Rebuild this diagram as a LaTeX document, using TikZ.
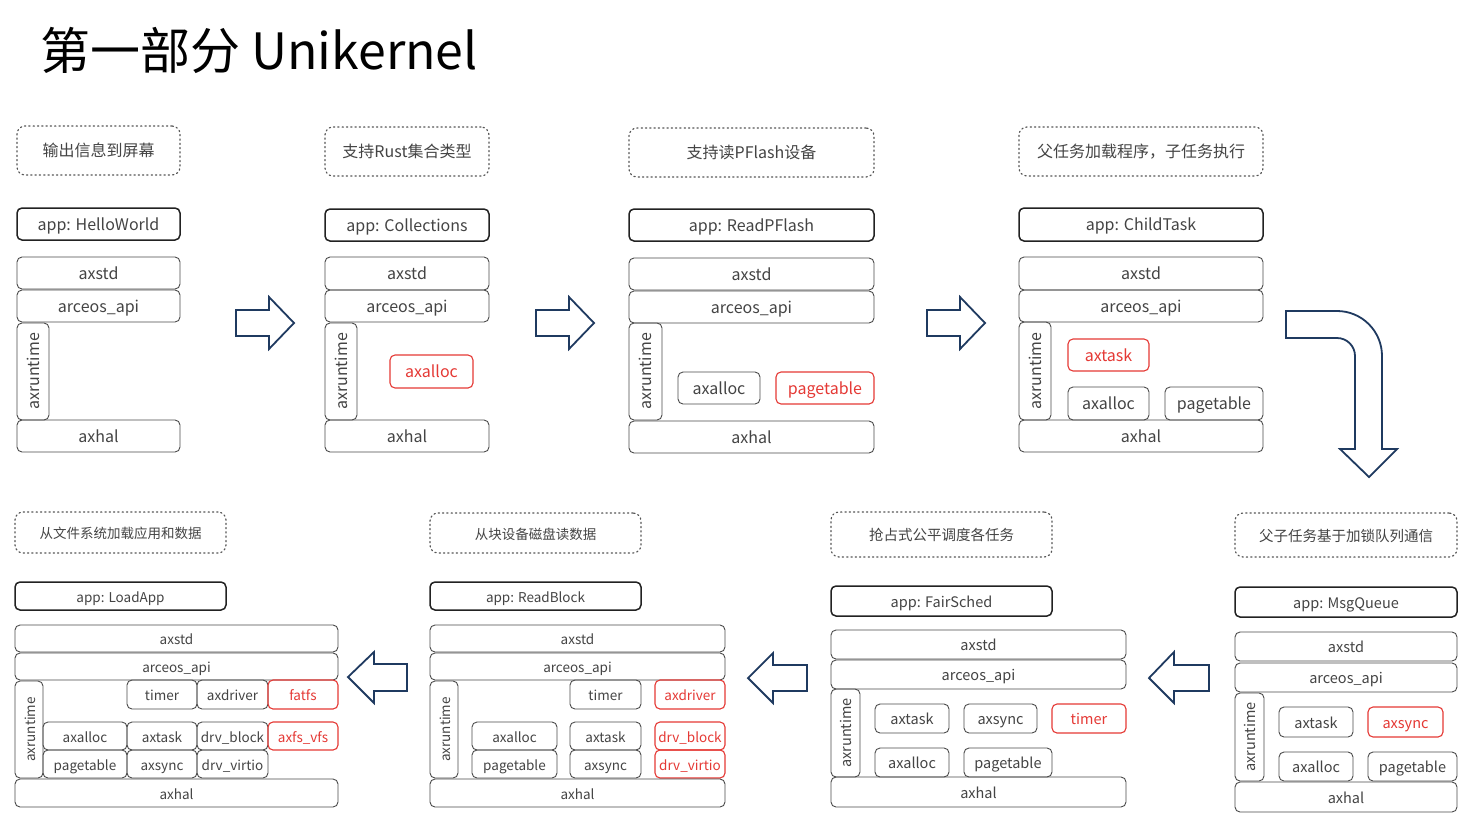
\documentclass[tikz,border=0pt]{standalone}
\usepackage{fontspec}
\setmainfont{Noto Sans CJK SC}
\definecolor{txt}{HTML}{444444}
\definecolor{boxc}{HTML}{4A4A4A}
\definecolor{appc}{HTML}{222222}
\definecolor{hotc}{HTML}{E53935}
\definecolor{navy}{HTML}{1F3A60}
\definecolor{lblc}{HTML}{555555}
\newcommand\bx[7][]{%
  \pgfmathsetmacro\bw{#5-#3}\pgfmathsetmacro\bh{#6-#4}%
  \node[box,#1,minimum width=\bw pt,minimum height=\bh pt] (#2) at ({(#3+#5)/2},{(#4+#6)/2}) {#7};}
\newcommand\vbx[7][]{%
  \pgfmathsetmacro\bw{#5-#3}\pgfmathsetmacro\bh{#6-#4}%
  \node[box,rotate=90,#1,minimum width=\bh pt,minimum height=\bw pt] (#2) at ({(#3+#5)/2},{(#4+#6)/2}) {#7};}
\begin{document}
\begin{tikzpicture}[x=1pt,y=-1pt,
  box/.style={draw=boxc,line width=0.9pt,rounded corners=5pt,text=txt,inner sep=0pt,outer sep=0pt,text height=1.3em,text depth=0.05em,font=\fontsize{16}{16}\selectfont},
  appb/.style={draw=appc,line width=1.5pt},
  hot/.style={draw=hotc,text=hotc,line width=1.1pt},
  lbl/.style={draw=lblc,line width=1.2pt,dash pattern=on 1.3pt off 3pt,line cap=round,rounded corners=8pt},
  sm/.style={font=\fontsize{13.5}{13.5}\selectfont},
  md/.style={font=\fontsize{14.5}{14.5}\selectfont},
  blk/.style={draw=navy,line width=1.8pt,line join=miter,fill=white}]
\useasboundingbox[fill=white] (0,0) rectangle (1472,815);
\node[anchor=west,inner sep=0pt,text=black,font=\fontsize{50}{50}\selectfont] (title) at (40,50) {第一部分 Unikernel};

% Panel 1
\bx[lbl]{lbl1}{17}{126}{180}{175}{输出信息到屏幕}
\bx[appb]{app1}{17}{208}{180}{240}{app: HelloWorld}
\bx{std1}{17}{257}{180}{289}{axstd}
\bx{api1}{17}{290}{180}{322}{arceos\_api}
\vbx{rt1}{17}{323}{49}{420}{axruntime}
\bx{hal1}{17}{420}{180}{452}{axhal}

% Panel 2
\bx[lbl]{lbl2}{325}{127}{489}{176}{支持Rust集合类型}
\bx[appb]{app2}{325}{209}{489}{241}{app: Collections}
\bx{std2}{325}{257}{489}{290}{axstd}
\bx{api2}{325}{290}{489}{322}{arceos\_api}
\vbx{rt2}{325}{323}{357}{420}{axruntime}
\bx[hot]{alloc2}{390}{355}{473}{388}{axalloc}
\bx{hal2}{325}{420}{489}{452}{axhal}

% Panel 3
\bx[lbl]{lbl3}{629}{128}{874}{177}{支持读PFlash设备}
\bx[appb]{app3}{629}{209}{874}{241}{app: ReadPFlash}
\bx{std3}{629}{258}{874}{290}{axstd}
\bx{api3}{629}{291}{874}{323}{arceos\_api}
\vbx{rt3}{629}{323}{662}{420}{axruntime}
\bx{alloc3}{678}{372}{760}{404}{axalloc}
\bx[hot]{pt3}{776}{372}{874}{404}{pagetable}
\bx{hal3}{629}{421}{874}{453}{axhal}

% Panel 4
\bx[lbl]{lbl4}{1019}{127}{1263}{176}{父任务加载程序，子任务执行}
\bx[appb]{app4}{1019}{208}{1263}{241}{app: ChildTask}
\bx{std4}{1019}{257}{1263}{290}{axstd}
\bx{api4}{1019}{290}{1263}{322}{arceos\_api}
\vbx{rt4}{1019}{322}{1051}{420}{axruntime}
\bx[hot]{task4}{1068}{339}{1149}{371}{axtask}
\bx{alloc4}{1068}{387}{1149}{420}{axalloc}
\bx{pt4}{1165}{387}{1263}{420}{pagetable}
\bx{hal4}{1019}{420}{1263}{452}{axhal}

% top arrows
\draw[blk] (236,310) -- (269,310) -- (269,297) -- (294,323) -- (269,349) -- (269,336) -- (236,336) -- cycle;
\draw[blk] (536,310) -- (569,310) -- (569,297) -- (594,323) -- (569,349) -- (569,336) -- (536,336) -- cycle;
\draw[blk] (927,310) -- (960,310) -- (960,297) -- (985,323) -- (960,349) -- (960,336) -- (927,336) -- cycle;
% curved arrow
\draw[blk] (1286,311) -- (1337,311) arc[start angle=270,end angle=360,radius=45] -- (1382,449) -- (1397,449) -- (1369,477) -- (1340,449) -- (1355,449) -- (1355,356) arc[start angle=0,end angle=-90,radius=18] -- (1286,338) -- cycle;

% Panel 5
\bx[lbl,sm]{lbl5}{15}{512}{226}{553}{从文件系统加载应用和数据}
\bx[appb,sm]{app5}{15}{582}{226}{610}{app: LoadApp}
\bx[sm]{std5}{15}{625}{338}{652}{axstd}
\bx[sm]{api5}{15}{653}{338}{680}{arceos\_api}
\vbx[sm]{rt5}{15}{681}{43}{778}{axruntime}
\bx[sm]{timer5}{127}{680}{197}{709}{timer}
\bx[sm]{drv5}{197}{680}{268}{709}{axdriver}
\bx[sm,hot]{fatfs5}{268}{680}{338}{709}{fatfs}
\bx[sm]{alloc5}{43}{722}{127}{750}{axalloc}
\bx[sm]{task5}{127}{722}{197}{750}{axtask}
\bx[sm]{blk5}{197}{722}{268}{750}{drv\_block}
\bx[sm,hot]{vfs5}{268}{722}{338}{750}{axfs\_vfs}
\bx[sm]{pt5}{43}{750}{127}{778}{pagetable}
\bx[sm]{sync5}{127}{750}{197}{778}{axsync}
\bx[sm]{virtio5}{197}{750}{268}{778}{drv\_virtio}
\bx[sm]{hal5}{15}{779}{338}{807}{axhal}

% Panel 6
\bx[lbl,sm]{lbl6}{430}{513}{641}{553}{从块设备磁盘读数据}
\bx[appb,sm]{app6}{430}{582}{641}{610}{app: ReadBlock}
\bx[sm]{std6}{430}{625}{725}{652}{axstd}
\bx[sm]{api6}{430}{653}{725}{680}{arceos\_api}
\vbx[sm]{rt6}{430}{681}{458}{778}{axruntime}
\bx[sm]{timer6}{570}{680}{641}{709}{timer}
\bx[sm,hot]{drv6}{655}{680}{725}{709}{axdriver}
\bx[sm]{alloc6}{472}{722}{557}{750}{axalloc}
\bx[sm]{task6}{570}{722}{641}{750}{axtask}
\bx[sm,hot]{blk6}{655}{722}{725}{750}{drv\_block}
\bx[sm]{pt6}{472}{750}{557}{778}{pagetable}
\bx[sm]{sync6}{570}{750}{641}{778}{axsync}
\bx[sm,hot]{virtio6}{655}{750}{725}{778}{drv\_virtio}
\bx[sm]{hal6}{430}{779}{725}{807}{axhal}

% Panel 7
\bx[lbl,md]{lbl7}{831}{512}{1052}{557}{抢占式公平调度各任务}
\bx[appb,md]{app7}{831}{586}{1052}{616}{app: FairSched}
\bx[md]{std7}{831}{630}{1126}{659}{axstd}
\bx[md]{api7}{831}{660}{1126}{689}{arceos\_api}
\vbx[md]{rt7}{831}{689}{860}{777}{axruntime}
\bx[md]{task7}{875}{704}{949}{733}{axtask}
\bx[md]{sync7}{964}{704}{1037}{733}{axsync}
\bx[md,hot]{timer7}{1052}{704}{1126}{733}{timer}
\bx[md]{alloc7}{875}{748}{949}{777}{axalloc}
\bx[md]{pt7}{964}{748}{1052}{777}{pagetable}
\bx[md]{hal7}{831}{777}{1126}{807}{axhal}

% Panel 8
\bx[lbl,md]{lbl8}{1235}{513}{1457}{557}{父子任务基于加锁队列通信}
\bx[appb,md]{app8}{1235}{587}{1457}{617}{app: MsgQueue}
\bx[md]{std8}{1235}{632}{1457}{661}{axstd}
\bx[md]{api8}{1235}{663}{1457}{692}{arceos\_api}
\vbx[md]{rt8}{1235}{693}{1264}{781}{axruntime}
\bx[md]{task8}{1279}{707}{1353}{737}{axtask}
\bx[md,hot]{sync8}{1368}{707}{1443}{737}{axsync}
\bx[md]{alloc8}{1279}{752}{1353}{781}{axalloc}
\bx[md]{pt8}{1368}{752}{1457}{781}{pagetable}
\bx[md]{hal8}{1235}{782}{1457}{812}{axhal}

% bottom arrows
\draw[blk] (407,664) -- (374,664) -- (374,652) -- (348,677) -- (374,703) -- (374,691) -- (407,691) -- cycle;
\draw[blk] (807,665) -- (773,665) -- (773,653) -- (748,678) -- (773,703) -- (773,691) -- (807,691) -- cycle;
\draw[blk] (1209,665) -- (1174,665) -- (1174,652) -- (1149,678) -- (1174,703) -- (1174,691) -- (1209,691) -- cycle;
\end{tikzpicture}
\end{document}
